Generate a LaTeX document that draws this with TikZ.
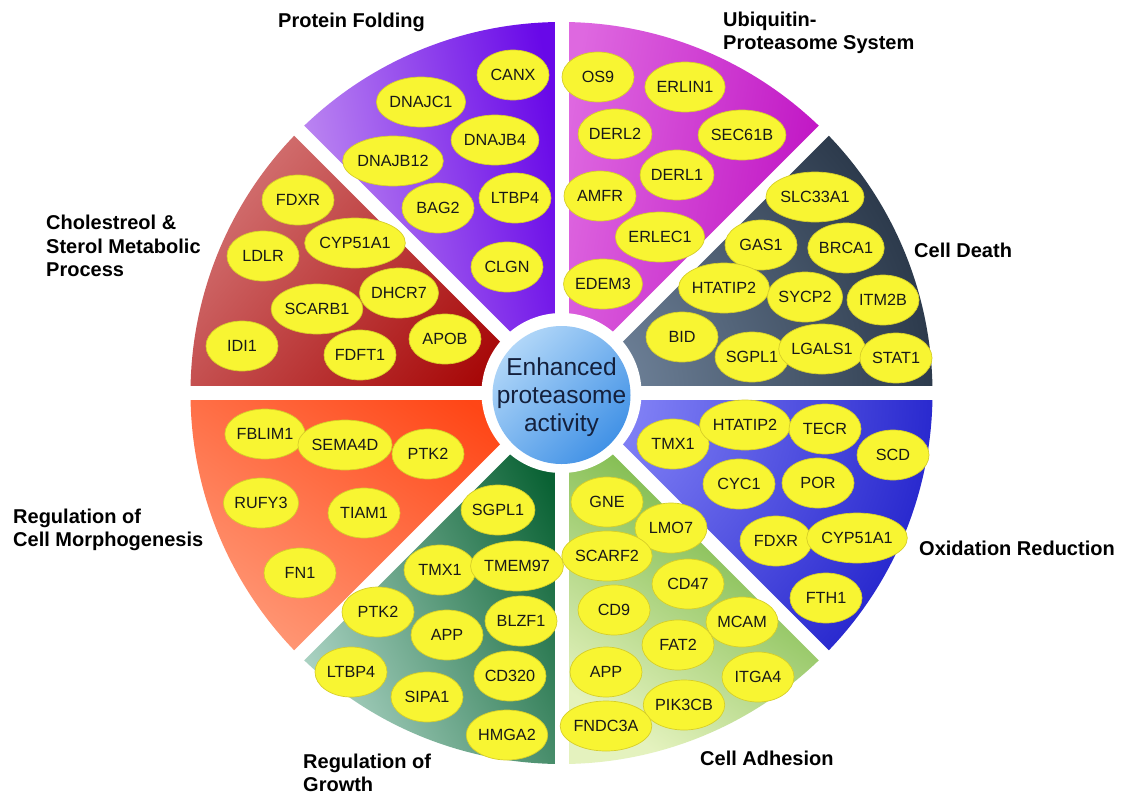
\documentclass[tikz,border=0pt]{standalone}
\usepackage{fontspec}
\setmainfont{Liberation Sans}
\usetikzlibrary{shapes.geometric}
\definecolor{geneyellow}{RGB}{248,245,50}
\definecolor{geneedge}{RGB}{214,206,40}
\definecolor{genetext}{RGB}{24,24,24}
\definecolor{pfL}{RGB}{196,146,242}
\definecolor{pfD}{RGB}{104,8,232}
\definecolor{upL}{RGB}{222,104,224}
\definecolor{upD}{RGB}{190,14,194}
\definecolor{cdL}{RGB}{122,142,166}
\definecolor{cdD}{RGB}{22,34,50}
\definecolor{oxL}{RGB}{150,150,255}
\definecolor{oxD}{RGB}{4,4,190}
\definecolor{caL}{RGB}{228,242,190}
\definecolor{caD}{RGB}{88,166,34}
\definecolor{rgL}{RGB}{170,210,194}
\definecolor{rgD}{RGB}{10,98,52}
\definecolor{rmL}{RGB}{255,150,116}
\definecolor{rmD}{RGB}{255,70,22}
\definecolor{chL}{RGB}{210,112,112}
\definecolor{chD}{RGB}{166,6,6}
\definecolor{ballL}{RGB}{176,214,248}
\definecolor{ballD}{RGB}{66,146,230}
\definecolor{centertext}{RGB}{20,32,60}
\begin{document}
\begin{tikzpicture}[x=1pt,y=1pt,
  gene/.style={ellipse, fill=geneyellow, draw=geneedge, line width=0.7pt,
    minimum width=72pt, minimum height=50pt, inner sep=0pt,
    font=\fontsize{16.2}{18}\selectfont, text=genetext},
  lab/.style={font=\fontsize{20}{23.5}\selectfont\bfseries, text=black,
    align=left, inner sep=0pt, anchor=west},
  gap/.style={white, line width=14pt}
]
\useasboundingbox (0,0) rectangle (1125,-796);
\fill[white] (0,0) rectangle (1125,-796);
\coordinate (C) at (561.5,-393);

% linear-shaded sectors
\shade[top color=pfD, bottom color=pfL, shading angle=-80]
  (C) -- +(90:371) arc[start angle=90, end angle=135, radius=371] -- cycle;
\shade[top color=upD, bottom color=upL, shading angle=-100]
  (C) -- +(45:371) arc[start angle=45, end angle=90, radius=371] -- cycle;
\shade[top color=chD, bottom color=chL, shading angle=-130]
  (C) -- +(135:371) arc[start angle=135, end angle=180, radius=371] -- cycle;
\shade[top color=rmD, bottom color=rmL, shading angle=-35]
  (C) -- +(180:371) arc[start angle=180, end angle=225, radius=371] -- cycle;
\shade[top color=rgD, bottom color=rgL, shading angle=-65]
  (C) -- +(225:371) arc[start angle=225, end angle=270, radius=371] -- cycle;
\shade[top color=caD, bottom color=caL, shading angle=-35]
  (C) -- +(270:371) arc[start angle=270, end angle=315, radius=371] -- cycle;
% radial-shaded sectors
\begin{scope}
  \clip (C) -- +(0:371) arc[start angle=0, end angle=45, radius=371] -- cycle;
  \shade[inner color=cdL, outer color=cdD] (C) circle (480);
\end{scope}
\begin{scope}
  \clip (C) -- +(-45:371) arc[start angle=-45, end angle=0, radius=371] -- cycle;
  \shade[inner color=oxL, outer color=oxD] (C) circle (500);
\end{scope}

% gaps
\foreach \a in {0,45,90,135}{
  \draw[gap] (C) ++(\a:385) -- ++(\a+180:770);
}
\fill[white] (C) circle (80);
\shade[top color=ballL, bottom color=ballD, shading angle=45]
  (561.5,-395) circle (69);
\node[font=\fontsize{24.5}{28}\selectfont, text=centertext, align=center] (ct)
  at (561.5,-397) {Enhanced\\proteasome\\activity};

% Protein Folding
\node[gene] (pf1) at (513,-75) {CANX};
\node[gene] (pf2) at (421,-102) {DNAJC1};
\node[gene] (pf3) at (495,-140) {DNAJB4};
\node[gene] (pf4) at (393,-161) {DNAJB12};
\node[gene] (pf5) at (438,-208) {BAG2};
\node[gene] (pf6) at (515,-198) {LTBP4};
\node[gene] (pf7) at (507,-267) {CLGN};
% Ubiquitin-Proteasome System
\node[gene] (ub1) at (598,-77) {OS9};
\node[gene] (ub2) at (685,-87) {ERLIN1};
\node[gene] (ub3) at (615,-134) {DERL2};
\node[gene] (ub4) at (742,-135) {SEC61B};
\node[gene] (ub5) at (677,-175) {DERL1};
\node[gene] (ub6) at (600,-196) {AMFR};
\node[gene] (ub7) at (660,-237) {ERLEC1};
\node[gene] (ub8) at (603,-284) {EDEM3};
% Cell Death
\node[gene] (cd1) at (815,-197) {SLC33A1};
\node[gene] (cd2) at (761,-245) {GAS1};
\node[gene] (cd3) at (846,-248) {BRCA1};
\node[gene] (cd4) at (724,-288) {HTATIP2};
\node[gene] (cd5) at (805,-297) {SYCP2};
\node[gene] (cd6) at (883,-300) {ITM2B};
\node[gene] (cd7) at (682,-337) {BID};
\node[gene] (cd8) at (752,-357) {SGPL1};
\node[gene] (cd9) at (822,-349) {LGALS1};
\node[gene] (cd10) at (896,-358) {STAT1};
% Cholesterol
\node[gene] (ch1) at (298,-200) {FDXR};
\node[gene] (ch2) at (263,-256) {LDLR};
\node[gene] (ch3) at (355,-243) {CYP51A1};
\node[gene] (ch4) at (399,-293) {DHCR7};
\node[gene] (ch5) at (317,-309) {SCARB1};
\node[gene] (ch6) at (242,-346) {IDI1};
\node[gene] (ch7) at (360,-355) {FDFT1};
\node[gene] (ch8) at (445,-339) {APOB};
% Regulation of Cell Morphogenesis
\node[gene] (rm1) at (265,-434) {FBLIM1};
\node[gene] (rm2) at (345,-445) {SEMA4D};
\node[gene] (rm3) at (428,-454) {PTK2};
\node[gene] (rm4) at (261,-503) {RUFY3};
\node[gene] (rm5) at (364,-513) {TIAM1};
\node[gene] (rm6) at (300,-573) {FN1};
% Regulation of Growth
\node[gene] (rg1) at (498,-510) {SGPL1};
\node[gene] (rg2) at (440,-570) {TMX1};
\node[gene] (rg3) at (517,-566) {TMEM97};
\node[gene] (rg4) at (378,-612) {PTK2};
\node[gene] (rg5) at (447,-635) {APP};
\node[gene] (rg6) at (521,-621) {BLZF1};
\node[gene] (rg7) at (351,-672) {LTBP4};
\node[gene] (rg8) at (510,-676) {CD320};
\node[gene] (rg9) at (427,-697) {SIPA1};
\node[gene] (rg10) at (507,-735) {HMGA2};
% Cell Adhesion
\node[gene] (ca1) at (607,-502) {GNE};
\node[gene] (ca2) at (671,-528) {LMO7};
\node[gene] (ca3) at (607,-556) {SCARF2};
\node[gene] (ca4) at (688,-584) {CD47};
\node[gene] (ca5) at (614,-610) {CD9};
\node[gene] (ca6) at (742,-622) {MCAM};
\node[gene] (ca7) at (678,-645) {FAT2};
\node[gene] (ca8) at (606,-672) {APP};
\node[gene] (ca9) at (758,-677) {ITGA4};
\node[gene] (ca10) at (684,-705) {PIK3CB};
\node[gene] (ca11) at (606,-726) {FNDC3A};
% Oxidation Reduction
\node[gene] (ox1) at (673,-444) {TMX1};
\node[gene] (ox2) at (745,-425) {HTATIP2};
\node[gene] (ox3) at (825,-429) {TECR};
\node[gene] (ox4) at (893,-455) {SCD};
\node[gene] (ox5) at (739,-484) {CYC1};
\node[gene] (ox6) at (818,-483) {POR};
\node[gene] (ox7) at (776,-541) {FDXR};
\node[gene] (ox8) at (857,-538) {CYP51A1};
\node[gene] (ox9) at (826,-598) {FTH1};

% category labels
\node[lab] (lpf) at (278,-22) {Protein Folding};
\node[lab] (lup) at (723,-33) {Ubiquitin-\\Proteasome System};
\node[lab] (lcd) at (914,-250) {Cell Death};
\node[lab] (lox) at (919,-548) {Oxidation Reduction};
\node[lab] (lch) at (46,-246) {Cholestreol \&\\Sterol Metabolic\\Process};
\node[lab] (lrm) at (13,-530) {Regulation of\\Cell Morphogenesis};
\node[lab] (lrg) at (303,-773) {Regulation of\\Growth};
\node[lab] (lca) at (700,-758) {Cell Adhesion};
\end{tikzpicture}
\end{document}
